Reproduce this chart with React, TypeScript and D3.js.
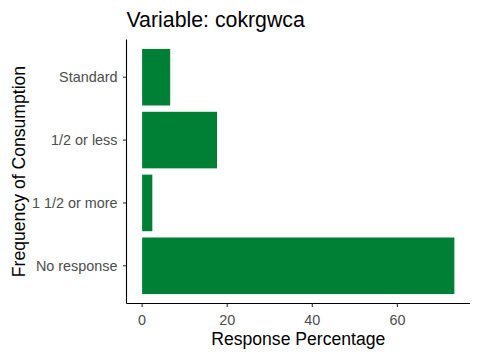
import React from 'react';
import * as d3 from 'd3';

// categories top to bottom, values in percent
const categories = ['Standard', '1/2 or less', '1 1/2 or more', 'No response'];
const percentages = [6.6, 17.6, 2.4, 73.4];
const xTicks = [0, 20, 40, 60];

const W = 480;
const H = 360;
const margin = { top: 39.5, right: 10, bottom: 56.5, left: 126.5 };
const barColor = '#008035';
const font = '"Liberation Sans", Arial, sans-serif';

export default function App() {
  const innerW = W - margin.left - margin.right;
  const innerH = H - margin.top - margin.bottom;

  const maxVal = d3.max(percentages) as number;
  const pad = maxVal * 0.05;
  const x = d3.scaleLinear().domain([-pad, maxVal + pad]).range([0, innerW]);

  // ggplot discrete axis: 0.6 unit expansion each side, bar width 0.9
  const n = categories.length;
  const y = d3.scaleLinear().domain([-0.6, n - 1 + 0.6]).range([0, innerH]);
  const step = y(1) - y(0);
  const barH = step * 0.9;

  return (
    <svg width={W} height={H} style={{ position: 'absolute', left: 0, top: 0 }}>
      <rect width={W} height={H} fill="#fff" />
      <text x={margin.left} y={27} fontFamily={font} fontSize={21.3} fill="#000">
        Variable: cokrgwca
      </text>
      <g transform={`translate(${margin.left},${margin.top})`}>
        {categories.map((c, i) => (
          <rect
            key={c}
            x={x(0)}
            y={y(i) - barH / 2}
            width={x(percentages[i]) - x(0)}
            height={barH}
            fill={barColor}
          />
        ))}
        {/* y axis */}
        <line x1={0} x2={0} y1={0} y2={innerH} stroke="#000" strokeWidth={1.1} />
        {categories.map((c, i) => (
          <g key={c} transform={`translate(0,${y(i)})`}>
            <line x1={-3.5} x2={0} stroke="#333" strokeWidth={1.1} />
            <text x={-9} dy="0.35em" textAnchor="end" fontFamily={font} fontSize={14.4} fill="#4D4D4D">
              {c}
            </text>
          </g>
        ))}
        {/* x axis */}
        <line x1={0} x2={innerW} y1={innerH} y2={innerH} stroke="#000" strokeWidth={1.1} />
        {xTicks.map((t) => (
          <g key={t} transform={`translate(${x(t)},${innerH})`}>
            <line y1={0} y2={3.5} stroke="#333" strokeWidth={1.1} />
            <text y={21.5} textAnchor="middle" fontFamily={font} fontSize={14.4} fill="#4D4D4D">
              {t}
            </text>
          </g>
        ))}
      </g>
      <text
        x={margin.left + innerW / 2}
        y={345}
        textAnchor="middle"
        fontFamily={font}
        fontSize={17.6}
        fill="#000"
      >
        Response Percentage
      </text>
      <text
        transform={`translate(25,${margin.top + innerH / 2}) rotate(-90)`}
        textAnchor="middle"
        fontFamily={font}
        fontSize={17.6}
        fill="#000"
      >
        Frequency of Consumption
      </text>
    </svg>
  );
}
